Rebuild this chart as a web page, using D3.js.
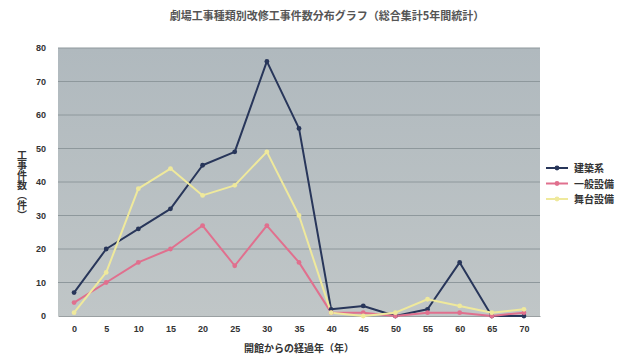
<!DOCTYPE html>
<html>
<head>
<meta charset="utf-8">
<script src="https://cdn.jsdelivr.net/npm/d3@7/dist/d3.min.js"></script>
<style>
  html, body { margin: 0; padding: 0; background: #fff; }
  svg { display: block; font-family: "Noto Sans CJK JP", "Noto Sans", sans-serif; }
</style>
</head>
<body>
<svg id="chart" width="640" height="356"></svg>
<script>
// Elapsed years since opening (category axis)
const years = ["0","5","10","15","20","25","30","35","40","45","50","55","60","65","70"];
// Number of works by type
const kenchiku = [7, 20, 26, 32, 45, 49, 76, 56, 2, 3, 0, 2, 16, 0, 0];
const ippan    = [4, 10, 16, 20, 27, 15, 27, 16, 1, 1, 0, 1, 1, 0, 1];
const butai    = [1, 13, 38, 44, 36, 39, 49, 30, 1, 0, 1, 5, 3, 1, 2];
const yTicks = [0, 10, 20, 30, 40, 50, 60, 70, 80];

const seriesNames = ["建築系", "一般設備", "舞台設備"];
const seriesColors = ["#28365a", "#e0708e", "#efe99c"];
const seriesData = [kenchiku, ippan, butai];

const title = "劇場工事種類別改修工事件数分布グラフ（総合集計5年間統計）";
const xTitle = "開館からの経過年（年）";
const yTitle = "工事件数（件）";

const svg = d3.select("#chart");
const plot = { left: 58, right: 540, top: 48, bottom: 316 };

const x = d3.scalePoint().domain(years).range([plot.left, plot.right]).padding(0.5);
const y = d3.scaleLinear().domain([0, 80]).range([plot.bottom, plot.top]);

// plot area background
const defs = svg.append("defs");
const grad = defs.append("linearGradient").attr("id", "bg").attr("x1", 0).attr("y1", 0).attr("x2", 0).attr("y2", 1);
grad.append("stop").attr("offset", "0%").attr("stop-color", "#b0b9be");
grad.append("stop").attr("offset", "100%").attr("stop-color", "#c0c6c7");
svg.append("rect")
  .attr("x", plot.left).attr("y", plot.top)
  .attr("width", plot.right - plot.left).attr("height", plot.bottom - plot.top)
  .attr("fill", "url(#bg)");

// horizontal gridlines
svg.append("g").selectAll("line").data(yTicks.slice(1)).join("line")
  .attr("x1", plot.left).attr("x2", plot.right)
  .attr("y1", d => y(d)).attr("y2", d => y(d))
  .attr("stroke", "#8e989c").attr("stroke-width", 1);

// y axis
const yAxis = svg.append("g").attr("transform", `translate(${plot.left},0)`)
  .call(d3.axisLeft(y).tickValues(yTicks).tickSize(0).tickPadding(12));
yAxis.select(".domain").remove();
yAxis.selectAll("text").attr("font-size", 9).attr("fill", "#333").attr("font-weight", "bold");

// x axis
const xAxis = svg.append("g").attr("transform", `translate(0,${plot.bottom})`)
  .call(d3.axisBottom(x).tickSize(0).tickPadding(10));
xAxis.select(".domain").attr("stroke", "#9aa0a2");
xAxis.selectAll("text").attr("font-size", 9).attr("fill", "#333").attr("font-weight", "bold");

// lines
const line = d3.line().x((d, i) => x(years[i])).y(d => y(d));
seriesData.forEach((vals, k) => {
  svg.append("path").datum(vals)
    .attr("d", line).attr("fill", "none")
    .attr("stroke", seriesColors[k]).attr("stroke-width", 2)
    .attr("stroke-linejoin", "round");
});
seriesData.forEach((vals, k) => {
  svg.append("g").selectAll("circle").data(vals).join("circle")
    .attr("cx", (d, i) => x(years[i])).attr("cy", d => y(d))
    .attr("r", 2.4).attr("fill", seriesColors[k]);
});

// title
svg.append("text").attr("x", 327).attr("y", 20).attr("text-anchor", "middle")
  .attr("font-size", 11).attr("font-weight", "bold").attr("fill", "#555").text(title);

// x axis title
svg.append("text").attr("x", (plot.left + plot.right) / 2).attr("y", 352).attr("text-anchor", "middle")
  .attr("font-size", 10).attr("font-weight", "bold").attr("fill", "#333").text(xTitle);

// y axis title, vertical writing
svg.append("text").attr("x", 22).attr("y", 185)
  .attr("text-anchor", "middle")
  .attr("font-size", 10).attr("font-weight", "bold").attr("fill", "#333")
  .style("writing-mode", "vertical-rl").style("text-orientation", "upright")
  .text(yTitle);

// legend
const legend = svg.append("g").attr("transform", "translate(546,168)");
seriesNames.forEach((name, k) => {
  const g = legend.append("g").attr("transform", `translate(0,${k * 15.5})`);
  g.append("line").attr("x1", 0).attr("x2", 22).attr("y1", 0).attr("y2", 0)
    .attr("stroke", seriesColors[k]).attr("stroke-width", 2);
  g.append("circle").attr("cx", 11).attr("cy", 0).attr("r", 2.4).attr("fill", seriesColors[k]);
  g.append("text").attr("x", 28).attr("y", 4).attr("font-size", 10).attr("font-weight", "bold")
    .attr("fill", "#333").text(name);
});
</script>
</body>
</html>
